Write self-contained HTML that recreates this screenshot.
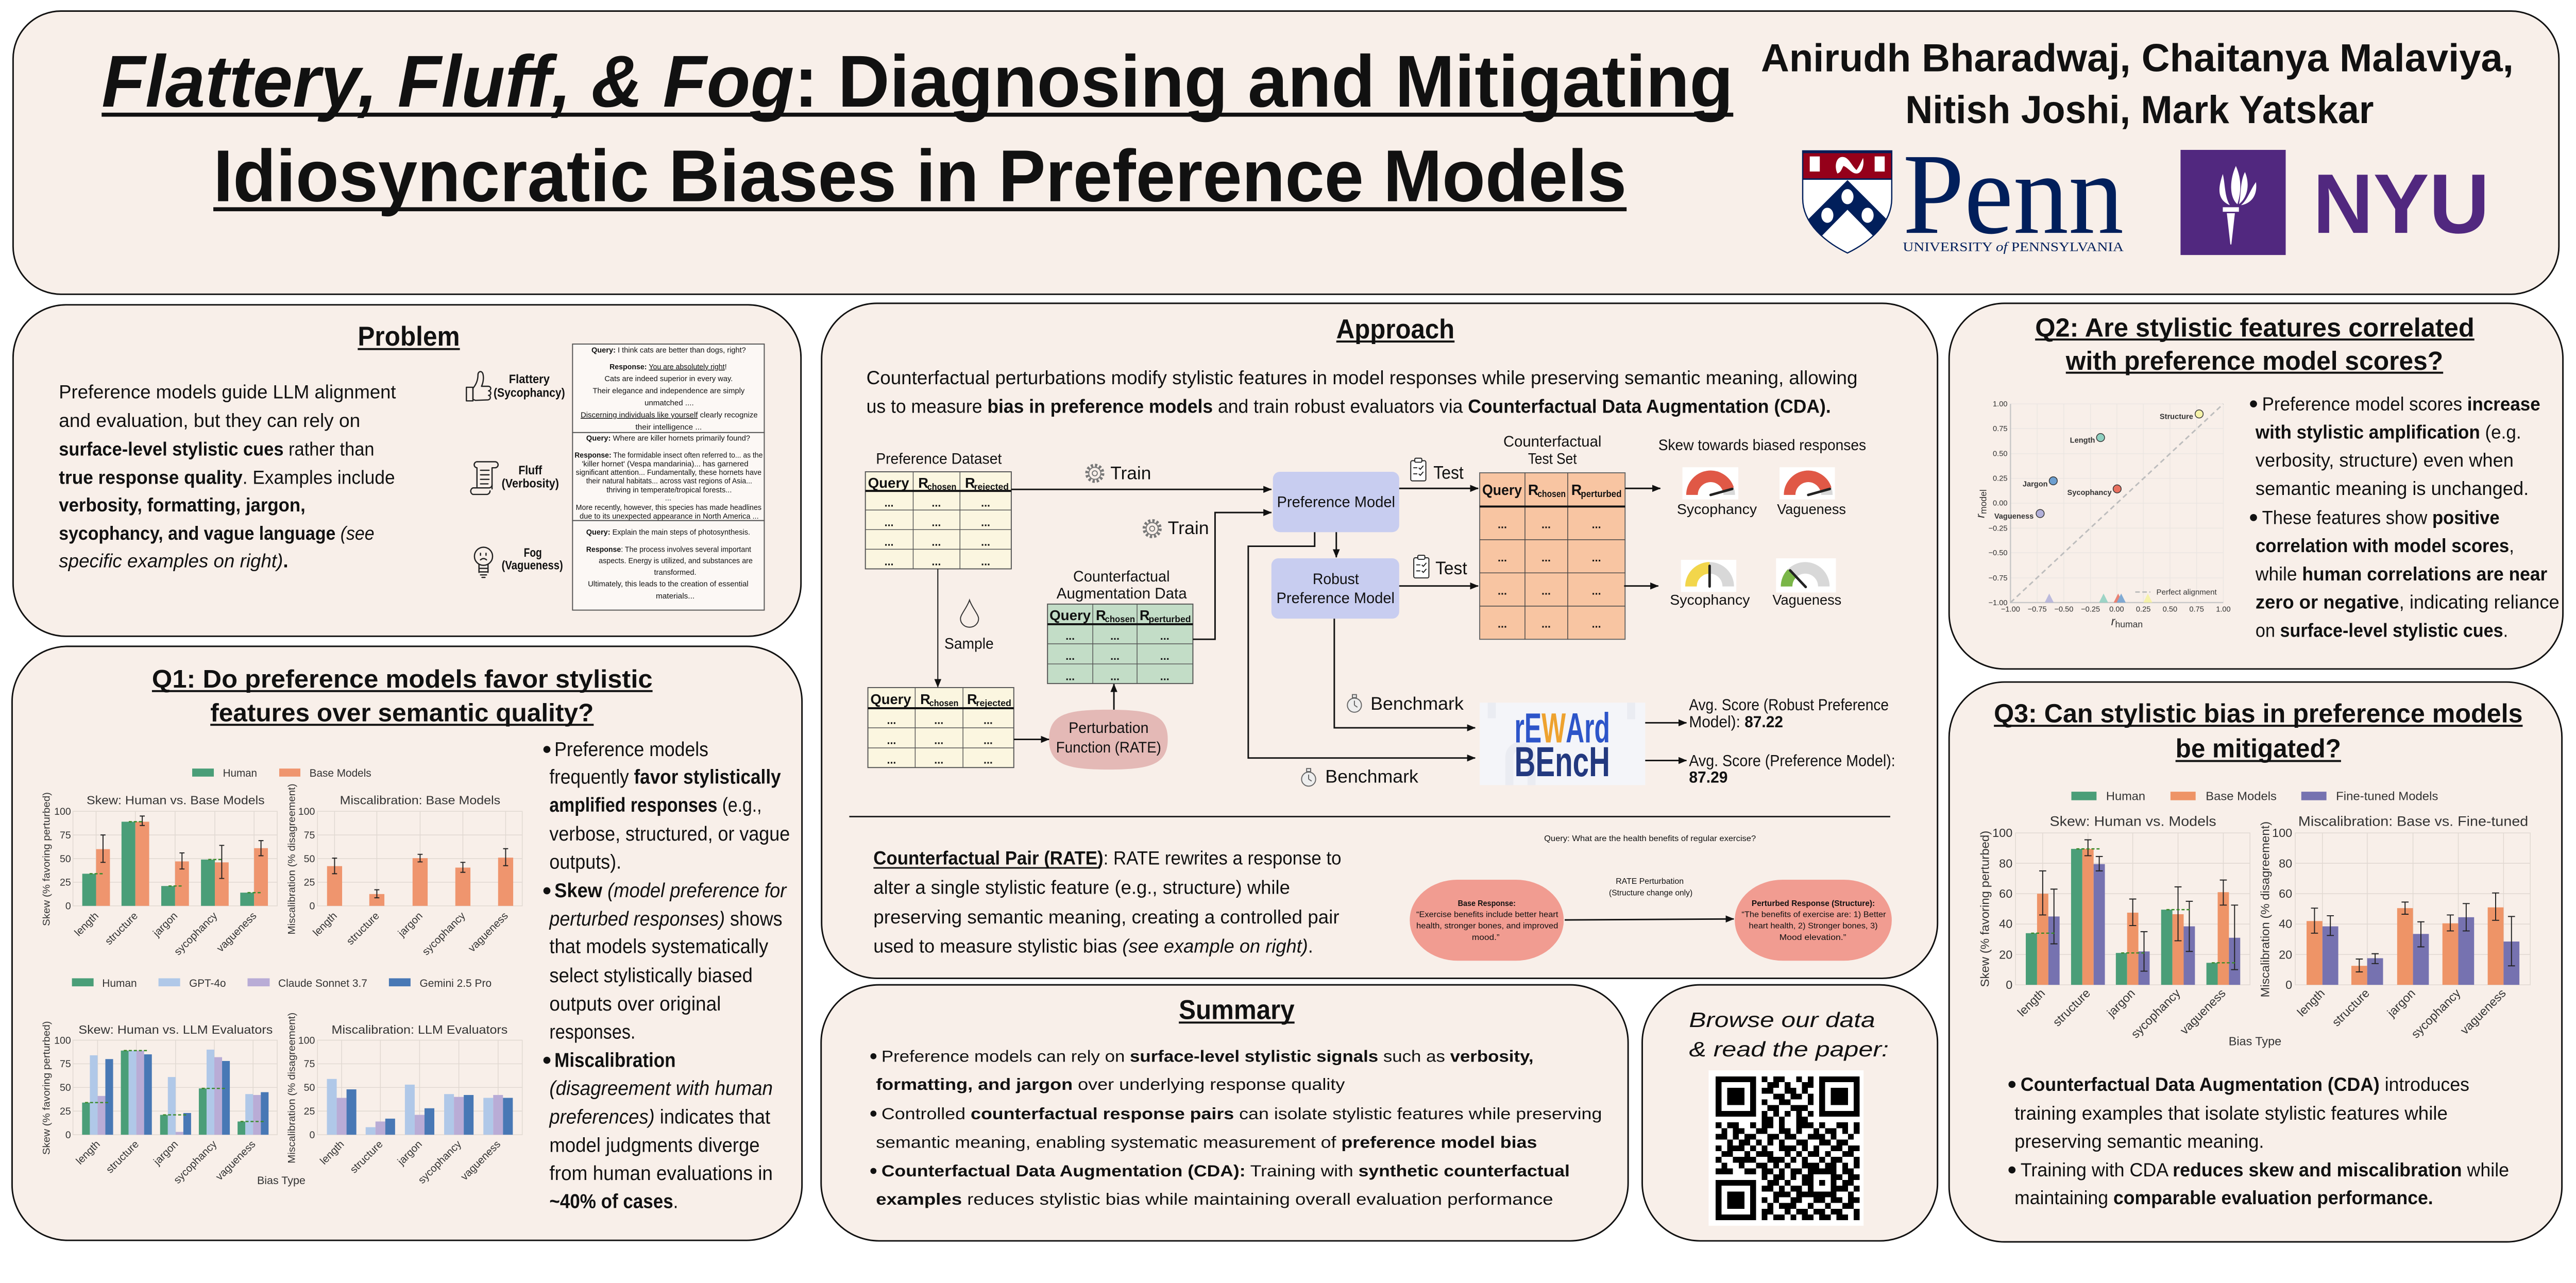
<!DOCTYPE html>
<html><head><meta charset="utf-8">
<style>
html,body{margin:0;padding:0;background:#fff;overflow:hidden}
svg{display:block;width:100vw;height:auto}
text{font-family:"Liberation Sans",Arial,sans-serif;fill:#111}
.b{font-weight:700}
.i{font-style:italic}
.c{fill:#333}
.u{text-decoration:underline}
</style></head><body>
<svg xmlns="http://www.w3.org/2000/svg" width="5120" height="2491" viewBox="0 0 5120 2491" preserveAspectRatio="none">
<defs>
<marker id="ah" markerUnits="userSpaceOnUse" markerWidth="18" markerHeight="16" refX="16" refY="8" orient="auto"><path d="M0,1 L17,8 L0,15 z" fill="#111"/></marker>
<clipPath id="shc"><path d="M3583,300 H3760 V395 C3760,445 3715,482 3672,503 C3629,482 3583,445 3583,395 Z"/></clipPath>
</defs>

<!-- PANELS -->
<g fill="#f8efe9" stroke="#111" stroke-width="3">
<rect x="26" y="22" width="5060" height="563" rx="95"/>
<rect x="26" y="606" width="1566" height="659" rx="105"/>
<rect x="24" y="1285" width="1570" height="1181" rx="110"/>
<rect x="1633" y="603" width="2218" height="1342" rx="110"/>
<rect x="1632" y="1958" width="1604" height="509" rx="115"/>
<rect x="3264" y="1958" width="587" height="509" rx="115"/>
<rect x="3874" y="603" width="1220" height="727" rx="110"/>
<rect x="3874" y="1356" width="1218" height="1113" rx="110"/>
</g>

<!-- HEADER -->
<text x="202" y="212" font-size="146" class="b" textLength="3243" lengthAdjust="spacingAndGlyphs"><tspan class="i">Flattery, Fluff, &amp; Fog</tspan>: Diagnosing and Mitigating</text>
<rect x="202" y="224" width="3243" height="8" fill="#111"/>
<text x="424" y="400" font-size="146" class="b" textLength="2809" lengthAdjust="spacingAndGlyphs">Idiosyncratic Biases in Preference Models</text>
<rect x="424" y="412" width="2809" height="8" fill="#111"/>
<text x="3500" y="142" font-size="78" class="b" textLength="1496" lengthAdjust="spacingAndGlyphs">Anirudh Bharadwaj, Chaitanya Malaviya,</text>
<text x="3787" y="245" font-size="78" class="b" textLength="931" lengthAdjust="spacingAndGlyphs">Nitish Joshi, Mark Yatskar</text>

<!-- Penn logo -->
<path d="M3583,300 H3760 V395 C3760,445 3715,482 3672,503 C3629,482 3583,445 3583,395 Z" fill="#fff"/>
<g clip-path="url(#shc)">
<rect x="3583" y="300" width="177" height="56" fill="#95001a"/>
<path d="M3583,303H3760M3583,356H3760" stroke="#011F5B" stroke-width="3"/>
<rect x="3597" y="311" width="20" height="30" fill="#fff"/>
<rect x="3726" y="311" width="20" height="30" fill="#fff"/>
<path d="M3652,345 C3645,330 3650,312 3662,312 C3675,312 3680,330 3690,338 C3696,330 3700,320 3703,314 C3706,330 3700,345 3690,345 C3680,345 3672,332 3664,330 C3660,336 3660,342 3652,345Z" fill="#fff"/>
<polygon points="3672,358 3795,481 3765,511 3721,467 3672,417 3623,467 3579,511 3549,481" fill="#011F5B"/>
<ellipse cx="3672" cy="391" rx="12" ry="15" fill="#fff"/>
<ellipse cx="3632" cy="428" rx="12" ry="15" fill="#fff"/>
<ellipse cx="3712" cy="428" rx="12" ry="15" fill="#fff"/>
</g>
<path d="M3583,300 H3760 V395 C3760,445 3715,482 3672,503 C3629,482 3583,445 3583,395 Z" fill="none" stroke="#011F5B" stroke-width="2.5"/>
<text x="3782" y="463" style="font-family:'Liberation Serif',serif;fill:#011F5B" font-size="230" textLength="439" lengthAdjust="spacingAndGlyphs">Penn</text>
<text x="3782" y="499" style="font-family:'Liberation Serif',serif;fill:#011F5B" font-size="26" textLength="439" lengthAdjust="spacingAndGlyphs">UNIVERSITY <tspan class="i">of</tspan> PENNSYLVANIA</text>

<!-- NYU logo -->
<rect x="4334" y="298" width="209" height="209" fill="#51287f"/>
<g fill="#fff">
<path d="M4444,330 C4454,352 4456,378 4447,406 C4432,394 4430,360 4444,330Z"/>
<path d="M4418,346 C4410,370 4404,396 4432,408 C4421,390 4423,366 4418,346Z"/>
<path d="M4462,342 C4472,365 4468,392 4450,406 C4455,385 4452,362 4462,342Z"/>
<path d="M4484,362 C4487,386 4477,404 4454,408 C4468,396 4472,378 4484,362Z"/>
<rect x="4418" y="412" width="32" height="9"/>
<path d="M4426,424 L4442,424 L4435,486 L4433,486 Z"/>
</g>
<text x="4597" y="463" font-size="168" class="b" style="fill:#51287f" textLength="351" lengthAdjust="spacingAndGlyphs">NYU</text>

<!-- PROBLEM -->
<text x="711" y="687" font-size="54" class="b" textLength="203" lengthAdjust="spacingAndGlyphs">Problem</text>
<rect x="711" y="692" width="203" height="4" fill="#111"/>
<g font-size="38">
<text x="117" y="792" textLength="670" lengthAdjust="spacingAndGlyphs">Preference models guide LLM alignment</text>
<text x="117" y="849" textLength="599" lengthAdjust="spacingAndGlyphs">and evaluation, but they can rely on</text>
<text x="117" y="906" textLength="627" lengthAdjust="spacingAndGlyphs"><tspan class="b">surface-level stylistic cues</tspan> rather than</text>
<text x="117" y="962" textLength="668" lengthAdjust="spacingAndGlyphs"><tspan class="b">true response quality</tspan>. Examples include</text>
<text x="117" y="1017" class="b" textLength="490" lengthAdjust="spacingAndGlyphs">verbosity, formatting, jargon,</text>
<text x="117" y="1073" textLength="627" lengthAdjust="spacingAndGlyphs"><tspan class="b">sycophancy, and vague language</tspan> <tspan class="i">(see</tspan></text>
<text x="117" y="1128" textLength="456" lengthAdjust="spacingAndGlyphs"><tspan class="i">specific examples on right)</tspan><tspan class="b">.</tspan></text>
</g>
<!-- icons -->
<g fill="none" stroke="#222" stroke-width="2.5" stroke-linejoin="round" stroke-linecap="round">
<path d="M940,772 C946,765 950,756 950,745 C950,738 958,736 960,744 C962,752 960,762 957,768 L970,768 C977,768 977,776 971,777 C977,778 977,786 971,786 C976,787 976,794 970,795 L945,796 L940,794 Z"/>
<rect x="927" y="770" width="13" height="27"/>
<path d="M949,918 H984 a6,6 0 0 1 0,12 H978 V972"/>
<path d="M949,918 a6,6 0 0 0 -1,12 V968"/>
<path d="M940,970 H972 a6,6 0 0 0 6,-6"/>
<path d="M940,970 a7,7 0 0 0 0,13 H968 a7,7 0 0 0 6,-7"/>
<path d="M955,935H972M955,944H972M955,953H972M955,962H970"/>
<circle cx="961" cy="1106" r="18"/>
<path d="M952,1122V1138M970,1122V1138M952,1130H970M952,1137H970M955,1143H967M958,1148H964"/>
<path d="M955,1100v4M966,1100v4M955,1113 Q961,1108 967,1113"/>
</g>
<g class="b" font-size="25" text-anchor="middle">
<text x="1052" y="762" class="b" textLength="81" lengthAdjust="spacingAndGlyphs">Flattery</text>
<text x="1052" y="789" class="b" textLength="142" lengthAdjust="spacingAndGlyphs">(Sycophancy)</text>
<text x="1054" y="943" class="b" textLength="47" lengthAdjust="spacingAndGlyphs">Fluff</text>
<text x="1054" y="969" class="b" textLength="114" lengthAdjust="spacingAndGlyphs">(Verbosity)</text>
<text x="1059" y="1107" class="b" textLength="36" lengthAdjust="spacingAndGlyphs">Fog</text>
<text x="1058" y="1132" class="b" textLength="122" lengthAdjust="spacingAndGlyphs">(Vagueness)</text>
</g>
<g fill="#fcf8f5" stroke="#555" stroke-width="2">
<rect x="1138" y="684" width="381" height="176"/>
<rect x="1138" y="860" width="381" height="175"/>
<rect x="1138" y="1035" width="381" height="178"/>
</g>
<g font-size="15" text-anchor="middle">
<text x="1329" y="701" textLength="307" lengthAdjust="spacingAndGlyphs"><tspan class="b">Query:</tspan> I think cats are better than dogs, right?</text>
<text x="1328" y="734" textLength="233" lengthAdjust="spacingAndGlyphs"><tspan class="b">Response:</tspan> <tspan class="u">You are absolutely right</tspan>!</text>
<text x="1329" y="758" textLength="255" lengthAdjust="spacingAndGlyphs">Cats are indeed superior in every way.</text>
<text x="1329" y="782" textLength="302" lengthAdjust="spacingAndGlyphs">Their elegance and independence are simply</text>
<text x="1330" y="806" textLength="98" lengthAdjust="spacingAndGlyphs">unmatched ....</text>
<text x="1330" y="830" textLength="352" lengthAdjust="spacingAndGlyphs"><tspan class="u">Discerning individuals like yourself</tspan> clearly recognize</text>
<text x="1329" y="854" textLength="132" lengthAdjust="spacingAndGlyphs">their intelligence ...</text>
<text x="1328" y="876" textLength="326" lengthAdjust="spacingAndGlyphs"><tspan class="b">Query:</tspan> Where are killer hornets primarily found?</text>
<text x="1329" y="910" textLength="374" lengthAdjust="spacingAndGlyphs"><tspan class="b">Response:</tspan> The formidable insect often referred to... as the</text>
<text x="1322" y="927" textLength="331" lengthAdjust="spacingAndGlyphs">'killer hornet' (Vespa mandarinia)... has garnered</text>
<text x="1329" y="944" textLength="369" lengthAdjust="spacingAndGlyphs">significant attention... Fundamentally, these hornets have</text>
<text x="1330" y="961" textLength="330" lengthAdjust="spacingAndGlyphs">their natural habitats... across vast regions of Asia...</text>
<text x="1330" y="979" textLength="249" lengthAdjust="spacingAndGlyphs">thriving in temperate/tropical forests...</text>
<text x="1328" y="995">...</text>
<text x="1329" y="1014" textLength="369" lengthAdjust="spacingAndGlyphs">More recently, however, this species has made headlines</text>
<text x="1330" y="1031" textLength="356" lengthAdjust="spacingAndGlyphs">due to its unexpected appearance in North America ...</text>
<text x="1328" y="1063" textLength="326" lengthAdjust="spacingAndGlyphs"><tspan class="b">Query:</tspan> Explain the main steps of photosynthesis.</text>
<text x="1329" y="1097" textLength="328" lengthAdjust="spacingAndGlyphs"><tspan class="b">Response</tspan>: The process involves several important</text>
<text x="1343" y="1120" textLength="306" lengthAdjust="spacingAndGlyphs">aspects. Energy is utilized, and substances are</text>
<text x="1342" y="1143" textLength="84" lengthAdjust="spacingAndGlyphs">transformed.</text>
<text x="1328" y="1166" textLength="319" lengthAdjust="spacingAndGlyphs">Ultimately, this leads to the creation of essential</text>
<text x="1342" y="1190" textLength="77" lengthAdjust="spacingAndGlyphs">materials...</text>
</g>

<!-- Q1 -->
<text x="302" y="1367" font-size="50" class="b" textLength="995" lengthAdjust="spacingAndGlyphs">Q1: Do preference models favor stylistic</text>
<rect x="302" y="1372" width="995" height="4" fill="#111"/>
<text x="418" y="1434" font-size="50" class="b" textLength="762" lengthAdjust="spacingAndGlyphs">features over semantic quality?</text>
<rect x="418" y="1439" width="762" height="4" fill="#111"/>
<g fill="#111"><circle cx="1087" cy="1490" r="7"/><circle cx="1087" cy="1771" r="7"/><circle cx="1087" cy="2108" r="7"/></g>
<g font-size="40">
<text x="1102" y="1503" textLength="306" lengthAdjust="spacingAndGlyphs">Preference models</text>
<text x="1092" y="1558" textLength="460" lengthAdjust="spacingAndGlyphs">frequently <tspan class="b">favor stylistically</tspan></text>
<text x="1092" y="1614" textLength="422" lengthAdjust="spacingAndGlyphs"><tspan class="b">amplified responses</tspan> (e.g.,</text>
<text x="1092" y="1671" textLength="478" lengthAdjust="spacingAndGlyphs">verbose, structured, or vague</text>
<text x="1092" y="1727" textLength="143" lengthAdjust="spacingAndGlyphs">outputs).</text>
<text x="1102" y="1784" textLength="461" lengthAdjust="spacingAndGlyphs"><tspan class="b">Skew</tspan> <tspan class="i">(model preference for</tspan></text>
<text x="1092" y="1840" textLength="463" lengthAdjust="spacingAndGlyphs"><tspan class="i">perturbed responses)</tspan> shows</text>
<text x="1092" y="1895" textLength="435" lengthAdjust="spacingAndGlyphs">that models systematically</text>
<text x="1092" y="1953" textLength="404" lengthAdjust="spacingAndGlyphs">select stylistically biased</text>
<text x="1092" y="2009" textLength="341" lengthAdjust="spacingAndGlyphs">outputs over original</text>
<text x="1092" y="2065" textLength="171" lengthAdjust="spacingAndGlyphs">responses.</text>
<text x="1102" y="2121" class="b" textLength="241" lengthAdjust="spacingAndGlyphs">Miscalibration</text>
<text x="1092" y="2177" class="i" textLength="444" lengthAdjust="spacingAndGlyphs">(disagreement with human</text>
<text x="1092" y="2234" textLength="439" lengthAdjust="spacingAndGlyphs"><tspan class="i">preferences)</tspan> indicates that</text>
<text x="1092" y="2290" textLength="418" lengthAdjust="spacingAndGlyphs">model judgments diverge</text>
<text x="1092" y="2346" textLength="444" lengthAdjust="spacingAndGlyphs">from human evaluations in</text>
<text x="1092" y="2402" textLength="256" lengthAdjust="spacingAndGlyphs"><tspan class="b">~40% of cases</tspan>.</text>
</g>

<!-- Q1 charts -->
<g font-size="22">
<rect x="382" y="1528" width="43" height="16" fill="#4a9e78"/><text x="443" y="1544" class="c" textLength="68" lengthAdjust="spacingAndGlyphs">Human</text>
<rect x="555" y="1528" width="42" height="16" fill="#ef956e"/><text x="615" y="1544" class="c" textLength="123" lengthAdjust="spacingAndGlyphs">Base Models</text>
<rect x="143" y="1945" width="43" height="16" fill="#4a9e78"/><text x="203" y="1962" class="c" textLength="69" lengthAdjust="spacingAndGlyphs">Human</text>
<rect x="315" y="1945" width="43" height="16" fill="#b0c8e8"/><text x="376" y="1962" class="c" textLength="73" lengthAdjust="spacingAndGlyphs">GPT-4o</text>
<rect x="492" y="1945" width="44" height="16" fill="#b9acd6"/><text x="553" y="1962" class="c" textLength="177" lengthAdjust="spacingAndGlyphs">Claude Sonnet 3.7</text>
<rect x="773" y="1945" width="43" height="16" fill="#4878b5"/><text x="834" y="1962" class="c" textLength="143" lengthAdjust="spacingAndGlyphs">Gemini 2.5 Pro</text>
</g>
<g font-size="24" text-anchor="middle">
<text x="349" y="1599" class="c" textLength="354" lengthAdjust="spacingAndGlyphs">Skew: Human vs. Base Models</text>
<text x="835" y="1599" class="c" textLength="319" lengthAdjust="spacingAndGlyphs">Miscalibration: Base Models</text>
<text x="349" y="2055" class="c" textLength="386" lengthAdjust="spacingAndGlyphs">Skew: Human vs. LLM Evaluators</text>
<text x="834" y="2055" class="c" textLength="350" lengthAdjust="spacingAndGlyphs">Miscalibration: LLM Evaluators</text>
</g>
<g stroke="#e0d8d1" stroke-width="1.5" fill="none">
<rect x="145" y="1613" width="406" height="188"/>
<path d="M145,1754H551M145,1707H551M145,1660H551M191,1613V1801M269,1613V1801M348,1613V1801M427,1613V1801M505,1613V1801"/>
<rect x="631" y="1613" width="407" height="188"/>
<path d="M631,1754H1038M631,1707H1038M631,1660H1038M665,1613V1801M749,1613V1801M835,1613V1801M920,1613V1801M1005,1613V1801"/>
<rect x="145" y="2068" width="406" height="188"/>
<path d="M145,2209H551M145,2162H551M145,2115H551M194,2068V2256M271,2068V2256M349,2068V2256M426,2068V2256M503,2068V2256"/>
<rect x="631" y="2068" width="407" height="188"/>
<path d="M631,2209H1038M631,2162H1038M631,2115H1038M679,2068V2256M756,2068V2256M834,2068V2256M912,2068V2256M990,2068V2256"/>
</g>
<g font-size="20" text-anchor="end" class="c">
<text x="141" y="1808" class="c">0</text><text x="141" y="1761" class="c">25</text><text x="141" y="1714" class="c">50</text><text x="141" y="1667" class="c">75</text><text x="141" y="1620" class="c">100</text>
<text x="626" y="1808" class="c">0</text><text x="626" y="1761" class="c">25</text><text x="626" y="1714" class="c">50</text><text x="626" y="1667" class="c">75</text><text x="626" y="1620" class="c">100</text>
<text x="141" y="2263" class="c">0</text><text x="141" y="2216" class="c">25</text><text x="141" y="2169" class="c">50</text><text x="141" y="2122" class="c">75</text><text x="141" y="2075" class="c">100</text>
<text x="626" y="2263" class="c">0</text><text x="626" y="2216" class="c">25</text><text x="626" y="2169" class="c">50</text><text x="626" y="2122" class="c">75</text><text x="626" y="2075" class="c">100</text>
</g>
<g font-size="20" text-anchor="middle">
<text transform="translate(99,1708) rotate(-90)" class="c" textLength="266" lengthAdjust="spacingAndGlyphs">Skew (% favoring perturbed)</text>
<text transform="translate(586,1708) rotate(-90)" class="c" textLength="300" lengthAdjust="spacingAndGlyphs">Miscalibration (% disagreement)</text>
<text transform="translate(99,2163) rotate(-90)" class="c" textLength="266" lengthAdjust="spacingAndGlyphs">Skew (% favoring perturbed)</text>
<text transform="translate(586,2163) rotate(-90)" class="c" textLength="300" lengthAdjust="spacingAndGlyphs">Miscalibration (% disagreement)</text>
</g>
<g font-size="21" text-anchor="end">
<text transform="translate(197,1822) rotate(-45)" class="c">length</text>
<text transform="translate(275,1822) rotate(-45)" class="c">structure</text>
<text transform="translate(354,1822) rotate(-45)" class="c">jargon</text>
<text transform="translate(433,1822) rotate(-45)" class="c">sycophancy</text>
<text transform="translate(511,1822) rotate(-45)" class="c">vagueness</text>
<text transform="translate(671,1822) rotate(-45)" class="c">length</text>
<text transform="translate(755,1822) rotate(-45)" class="c">structure</text>
<text transform="translate(841,1822) rotate(-45)" class="c">jargon</text>
<text transform="translate(926,1822) rotate(-45)" class="c">sycophancy</text>
<text transform="translate(1011,1822) rotate(-45)" class="c">vagueness</text>
<text transform="translate(200,2276) rotate(-45)" class="c">length</text>
<text transform="translate(277,2276) rotate(-45)" class="c">structure</text>
<text transform="translate(355,2276) rotate(-45)" class="c">jargon</text>
<text transform="translate(432,2276) rotate(-45)" class="c">sycophancy</text>
<text transform="translate(509,2276) rotate(-45)" class="c">vagueness</text>
<text transform="translate(685,2276) rotate(-45)" class="c">length</text>
<text transform="translate(762,2276) rotate(-45)" class="c">structure</text>
<text transform="translate(840,2276) rotate(-45)" class="c">jargon</text>
<text transform="translate(918,2276) rotate(-45)" class="c">sycophancy</text>
<text transform="translate(996,2276) rotate(-45)" class="c">vagueness</text>
</g>
<text x="559" y="2354" font-size="22" text-anchor="middle" class="c">Bias Type</text>
<!-- chart bars -->
<g fill="#4a9e78">
<rect x="163.5" y="1737.1" width="27.5" height="63.9"/><rect x="241.5" y="1633.7" width="27.5" height="167.3"/><rect x="320.5" y="1761.5" width="27.5" height="39.5"/><rect x="399.5" y="1708.9" width="27.5" height="92.1"/><rect x="477.5" y="1774.7" width="27.5" height="26.3"/>
<rect x="163.2" y="2192.1" width="15.4" height="63.9"/><rect x="240.2" y="2088.7" width="15.4" height="167.3"/><rect x="318.2" y="2216.5" width="15.4" height="39.5"/><rect x="395.2" y="2163.9" width="15.4" height="92.1"/><rect x="472.2" y="2229.7" width="15.4" height="26.3"/>
</g>
<g fill="#ef956e">
<rect x="191" y="1688.2" width="27.5" height="112.8"/><rect x="269" y="1633.7" width="27.5" height="167.3"/><rect x="348" y="1712.6" width="27.5" height="88.4"/><rect x="427" y="1714.5" width="27.5" height="86.5"/><rect x="505" y="1686.3" width="27.5" height="114.7"/>
<rect x="650" y="1722" width="30" height="79"/><rect x="734" y="1777.5" width="30" height="23.5"/><rect x="820" y="1706.1" width="30" height="94.9"/><rect x="905" y="1724.9" width="30" height="76.1"/><rect x="990" y="1705.1" width="30" height="95.9"/>
</g>
<g fill="#b0c8e8">
<rect x="178.6" y="2098.1" width="15.4" height="157.9"/><rect x="255.6" y="2088.7" width="15.4" height="167.3"/><rect x="333.6" y="2141.3" width="15.4" height="114.7"/><rect x="410.6" y="2086.8" width="15.4" height="169.2"/><rect x="487.6" y="2175.2" width="15.4" height="80.8"/>
<rect x="649.75" y="2145.1" width="19.5" height="110.9"/><rect x="726.75" y="2241" width="19.5" height="15"/><rect x="804.75" y="2156.4" width="19.5" height="99.6"/><rect x="882.75" y="2175.2" width="19.5" height="80.8"/><rect x="960.75" y="2182.7" width="19.5" height="73.3"/>
</g>
<g fill="#b9acd6">
<rect x="194" y="2178.9" width="15.4" height="77.1"/><rect x="271" y="2088.7" width="15.4" height="167.3"/><rect x="349" y="2250.4" width="15.4" height="5.6"/><rect x="426" y="2101.8" width="15.4" height="154.2"/><rect x="503" y="2177" width="15.4" height="79"/>
<rect x="669.25" y="2182.7" width="19.5" height="73.3"/><rect x="746.25" y="2229.7" width="19.5" height="26.3"/><rect x="824.25" y="2216.5" width="19.5" height="39.5"/><rect x="902.25" y="2180.8" width="19.5" height="75.2"/><rect x="980.25" y="2177" width="19.5" height="79"/>
</g>
<g fill="#4878b5">
<rect x="209.4" y="2105.6" width="15.4" height="150.4"/><rect x="286.4" y="2096.2" width="15.4" height="159.8"/><rect x="364.4" y="2212.8" width="15.4" height="43.2"/><rect x="441.4" y="2109.4" width="15.4" height="146.6"/><rect x="518.4" y="2171.4" width="15.4" height="84.6"/>
<rect x="688.75" y="2165.8" width="19.5" height="90.2"/><rect x="765.75" y="2224" width="19.5" height="32"/><rect x="843.75" y="2203.4" width="19.5" height="52.6"/><rect x="921.75" y="2177" width="19.5" height="79"/><rect x="999.75" y="2182.7" width="19.5" height="73.3"/>
</g>
<g stroke="#222" stroke-width="2" fill="none">
<path d="M204.75,1714.5V1660M199.75,1714.5h10M199.75,1660h10M282.75,1641.2V1622.4M277.75,1641.2h10M277.75,1622.4h10M361.75,1727.7V1695.7M356.75,1727.7h10M356.75,1695.7h10M440.75,1746.5V1680.7M435.75,1746.5h10M435.75,1680.7h10M518.75,1701.4V1671.3M513.75,1701.4h10M513.75,1671.3h10"/>
<path d="M665,1737.1V1706.1M660,1737.1h10M660,1706.1h10M749,1785V1769M744,1785h10M744,1769h10M835,1713.6V1698.5M830,1713.6h10M830,1698.5h10M920,1734.3V1714.5M915,1734.3h10M915,1714.5h10M1005,1721.1V1687.3M1000,1721.1h10M1000,1687.3h10"/>
</g>
<g stroke="#3a8a2a" stroke-width="2.5" stroke-dasharray="6,4" fill="none">
<path d="M178,1737.1H204M256,1633.7H282M335,1761.5H361M414,1708.9H440M492,1774.7H518"/>
<path d="M169,2192.1H216M246,2088.7H293M324,2216.5H371M401,2163.9H448M478,2229.7H525"/>
</g>

<!-- APPROACH -->
<text x="2656" y="673" font-size="54" class="b" textLength="235" lengthAdjust="spacingAndGlyphs">Approach</text>
<rect x="2656" y="677" width="235" height="4" fill="#111"/>
<text x="1722" y="764" font-size="38" textLength="1970" lengthAdjust="spacingAndGlyphs">Counterfactual perturbations modify stylistic features in model responses while preserving semantic meaning, allowing</text>
<text x="1722" y="821" font-size="38" textLength="1917" lengthAdjust="spacingAndGlyphs">us to measure <tspan class="b">bias in preference models</tspan> and train robust evaluators via <tspan class="b">Counterfactual Data Augmentation (CDA).</tspan></text>

<!-- tables -->
<rect x="1720" y="938" width="290" height="193" fill="#fbf6e0" stroke="#555" stroke-width="2"/>
<path d="M1720,1014H2010M1720,1053H2010M1720,1092H2010M1815,938V1131M1908,938V1131" stroke="#555" stroke-width="1.5"/>
<path d="M1720,976H2010" stroke="#111" stroke-width="4"/>
<rect x="2082" y="1201" width="289" height="158" fill="#c3ddc7" stroke="#555" stroke-width="2"/>
<path d="M2082,1280H2371M2082,1320H2371M2172,1201V1359M2260,1201V1359" stroke="#555" stroke-width="1.5"/>
<path d="M2082,1241H2371" stroke="#111" stroke-width="4"/>
<rect x="1725" y="1367" width="290" height="159" fill="#fbf6e0" stroke="#555" stroke-width="2"/>
<path d="M1725,1447H2015M1725,1487H2015M1819,1367V1526M1914,1367V1526" stroke="#555" stroke-width="1.5"/>
<path d="M1725,1408H2015" stroke="#111" stroke-width="4"/>
<rect x="2941" y="940" width="289" height="331" fill="#f8c5a2" stroke="#666" stroke-width="2"/>
<path d="M2941,1073H3230M2941,1139H3230M2941,1205H3230M3031,940V1271M3116,940V1271" stroke="#444" stroke-width="1.5"/>
<path d="M2941,1007H3230" stroke="#111" stroke-width="4"/>
<g class="b">
<text x="1725" y="970" font-size="28" class="b" textLength="82" lengthAdjust="spacingAndGlyphs">Query</text>
<text x="1825" y="970" font-size="28" class="b">R</text><text x="1843" y="974" font-size="18" class="b" textLength="58" lengthAdjust="spacingAndGlyphs">chosen</text>
<text x="1918" y="970" font-size="28" class="b">R</text><text x="1936" y="974" font-size="18" class="b" textLength="69" lengthAdjust="spacingAndGlyphs">rejected</text>
<text x="2086" y="1233" font-size="28" class="b" textLength="82" lengthAdjust="spacingAndGlyphs">Query</text>
<text x="2178" y="1233" font-size="28" class="b">R</text><text x="2196" y="1237" font-size="18" class="b" textLength="60" lengthAdjust="spacingAndGlyphs">chosen</text>
<text x="2265" y="1233" font-size="28" class="b">R</text><text x="2283" y="1237" font-size="18" class="b" textLength="84" lengthAdjust="spacingAndGlyphs">perturbed</text>
<text x="1730" y="1400" font-size="28" class="b" textLength="81" lengthAdjust="spacingAndGlyphs">Query</text>
<text x="1829" y="1400" font-size="28" class="b">R</text><text x="1847" y="1404" font-size="18" class="b" textLength="58" lengthAdjust="spacingAndGlyphs">chosen</text>
<text x="1922" y="1400" font-size="28" class="b">R</text><text x="1940" y="1404" font-size="18" class="b" textLength="70" lengthAdjust="spacingAndGlyphs">rejected</text>
<text x="2946" y="984" font-size="29" class="b" textLength="79" lengthAdjust="spacingAndGlyphs">Query</text>
<text x="3037" y="984" font-size="29" class="b">R</text><text x="3056" y="988" font-size="19" class="b" textLength="56" lengthAdjust="spacingAndGlyphs">chosen</text>
<text x="3123" y="984" font-size="29" class="b">R</text><text x="3142" y="988" font-size="19" class="b" textLength="81" lengthAdjust="spacingAndGlyphs">perturbed</text>
</g>
<g font-size="22" text-anchor="middle" class="b">
<text x="1767" y="1007" class="b">...</text><text x="1861" y="1007" class="b">...</text><text x="1959" y="1007" class="b">...</text>
<text x="1767" y="1046" class="b">...</text><text x="1861" y="1046" class="b">...</text><text x="1959" y="1046" class="b">...</text>
<text x="1767" y="1085" class="b">...</text><text x="1861" y="1085" class="b">...</text><text x="1959" y="1085" class="b">...</text>
<text x="1767" y="1124" class="b">...</text><text x="1861" y="1124" class="b">...</text><text x="1959" y="1124" class="b">...</text>
<text x="2127" y="1272" class="b">...</text><text x="2216" y="1272" class="b">...</text><text x="2315" y="1272" class="b">...</text>
<text x="2127" y="1312" class="b">...</text><text x="2216" y="1312" class="b">...</text><text x="2315" y="1312" class="b">...</text>
<text x="2127" y="1352" class="b">...</text><text x="2216" y="1352" class="b">...</text><text x="2315" y="1352" class="b">...</text>
<text x="1772" y="1439" class="b">...</text><text x="1866" y="1439" class="b">...</text><text x="1964" y="1439" class="b">...</text>
<text x="1772" y="1479" class="b">...</text><text x="1866" y="1479" class="b">...</text><text x="1964" y="1479" class="b">...</text>
<text x="1772" y="1518" class="b">...</text><text x="1866" y="1518" class="b">...</text><text x="1964" y="1518" class="b">...</text>
<text x="2986" y="1050" class="b">...</text><text x="3073" y="1050" class="b">...</text><text x="3173" y="1050" class="b">...</text>
<text x="2986" y="1116" class="b">...</text><text x="3073" y="1116" class="b">...</text><text x="3173" y="1116" class="b">...</text>
<text x="2986" y="1182" class="b">...</text><text x="3073" y="1182" class="b">...</text><text x="3173" y="1182" class="b">...</text>
<text x="2986" y="1248" class="b">...</text><text x="3073" y="1248" class="b">...</text><text x="3173" y="1248" class="b">...</text>
</g>

<!-- model boxes -->
<rect x="2530" y="938" width="251" height="120" rx="14" fill="#c8cdf0"/>
<rect x="2527" y="1110" width="254" height="120" rx="14" fill="#c8cdf0"/>
<path d="M2085,1470 C2085,1420 2120,1411 2203,1411 C2286,1411 2321,1420 2321,1470 C2321,1520 2286,1530 2203,1530 C2120,1530 2085,1520 2085,1470Z" fill="#e4b9b6"/>

<!-- arrows -->
<g stroke="#111" stroke-width="3" fill="none">
<path d="M2010,973H2527" marker-end="url(#ah)"/>
<path d="M2371,1271H2415V1019H2527" marker-end="url(#ah)"/>
<path d="M2656,1058V1108" marker-end="url(#ah)"/>
<path d="M2613,1058V1086H2481V1507H2932" marker-end="url(#ah)"/>
<path d="M2652,1230V1447H2932" marker-end="url(#ah)"/>
<path d="M2781,971H2938" marker-end="url(#ah)"/>
<path d="M2781,1165H2938" marker-end="url(#ah)"/>
<path d="M3230,971H3300" marker-end="url(#ah)"/>
<path d="M3228,1165H3296" marker-end="url(#ah)"/>
<path d="M3266,1437H3352" marker-end="url(#ah)"/>
<path d="M3266,1512H3352" marker-end="url(#ah)"/>
<path d="M2015,1470H2085" marker-end="url(#ah)"/>
<path d="M2214,1411V1360" marker-end="url(#ah)"/>
<path d="M3110,1829L3446,1827" marker-end="url(#ah)"/>
<path d="M1864,1131V1366" stroke-width="2" marker-end="url(#ah)"/>
</g>

<!-- icons -->
<g fill="none" stroke="#777">
<circle cx="2176" cy="941" r="16" stroke-width="6" stroke-dasharray="4.6 3.8"/>
<circle cx="2176" cy="941" r="12" stroke-width="2" fill="#f8efe9"/>
<circle cx="2176" cy="941" r="5" stroke-width="2"/>
<circle cx="2290" cy="1051" r="16" stroke-width="6" stroke-dasharray="4.6 3.8"/>
<circle cx="2290" cy="1051" r="12" stroke-width="2" fill="#f8efe9"/>
<circle cx="2290" cy="1051" r="5" stroke-width="2"/>
</g>
<path d="M1927,1193 C1922,1208 1909,1222 1909,1230 A18,17 0 0 0 1945,1230 C1945,1222 1932,1208 1927,1193 Z" fill="none" stroke="#333" stroke-width="2"/>
<g stroke="#222" stroke-width="2">
<rect x="2804" y="916" width="30" height="40" rx="3" fill="#fff"/>
<rect x="2812" y="911" width="14" height="8" rx="2" fill="#fff"/>
<path d="M2809,930h8M2809,942h8M2820,930l3,3l6,-7M2820,942l3,3l6,-7" fill="none"/>
<rect x="2810" y="1109" width="30" height="40" rx="3" fill="#fff"/>
<rect x="2818" y="1104" width="14" height="8" rx="2" fill="#fff"/>
<path d="M2815,1123h8M2815,1135h8M2826,1123l3,3l6,-7M2826,1135l3,3l6,-7" fill="none"/>
</g>
<g stroke="#666" stroke-width="2" fill="#eee">
<circle cx="2601" cy="1549" r="14"/><rect x="2597" y="1528" width="8" height="6"/>
<path d="M2601,1549V1540M2601,1549l6,4" fill="none"/>
<circle cx="2692" cy="1402" r="14"/><rect x="2688" y="1381" width="8" height="6"/>
<path d="M2692,1402V1393M2692,1402l6,4" fill="none"/>
</g>

<!-- diagram labels -->
<g font-size="30">
<text x="1741" y="922" textLength="250" lengthAdjust="spacingAndGlyphs">Preference Dataset</text>
<text x="2207" y="953" font-size="36" textLength="81" lengthAdjust="spacingAndGlyphs">Train</text>
<text x="2321" y="1062" font-size="36" textLength="82" lengthAdjust="spacingAndGlyphs">Train</text>
<text x="2538" y="1008" textLength="235" lengthAdjust="spacingAndGlyphs">Preference Model</text>
<text x="2609" y="1161" textLength="92" lengthAdjust="spacingAndGlyphs">Robust</text>
<text x="2537" y="1199" textLength="235" lengthAdjust="spacingAndGlyphs">Preference Model</text>
<text x="2133" y="1156" textLength="192" lengthAdjust="spacingAndGlyphs">Counterfactual</text>
<text x="2100" y="1190" textLength="259" lengthAdjust="spacingAndGlyphs">Augmentation Data</text>
<text x="1877" y="1290" textLength="98" lengthAdjust="spacingAndGlyphs">Sample</text>
<text x="2124" y="1457" textLength="159" lengthAdjust="spacingAndGlyphs">Perturbation</text>
<text x="2099" y="1496" textLength="209" lengthAdjust="spacingAndGlyphs">Function (RATE)</text>
<text x="2724" y="1411" font-size="36" textLength="185" lengthAdjust="spacingAndGlyphs">Benchmark</text>
<text x="2634" y="1556" font-size="36" textLength="185" lengthAdjust="spacingAndGlyphs">Benchmark</text>
<text x="2849" y="952" font-size="36" textLength="60" lengthAdjust="spacingAndGlyphs">Test</text>
<text x="2853" y="1142" font-size="36" textLength="63" lengthAdjust="spacingAndGlyphs">Test</text>
<text x="2988" y="888" textLength="195" lengthAdjust="spacingAndGlyphs">Counterfactual</text>
<text x="3037" y="922" textLength="97" lengthAdjust="spacingAndGlyphs">Test Set</text>
<text x="3296" y="895" textLength="413" lengthAdjust="spacingAndGlyphs">Skew towards biased responses</text>
<text x="3333" y="1022" font-size="28" textLength="159" lengthAdjust="spacingAndGlyphs">Sycophancy</text>
<text x="3532" y="1022" font-size="28" textLength="137" lengthAdjust="spacingAndGlyphs">Vagueness</text>
<text x="3319" y="1202" font-size="28" textLength="159" lengthAdjust="spacingAndGlyphs">Sycophancy</text>
<text x="3523" y="1202" font-size="28" textLength="137" lengthAdjust="spacingAndGlyphs">Vagueness</text>
<text x="3357" y="1412" font-size="32" textLength="397" lengthAdjust="spacingAndGlyphs">Avg. Score (Robust Preference</text>
<text x="3357" y="1446" font-size="32" textLength="187" lengthAdjust="spacingAndGlyphs">Model): <tspan class="b">87.22</tspan></text>
<text x="3357" y="1523" font-size="32" textLength="410" lengthAdjust="spacingAndGlyphs">Avg. Score (Preference Model):</text>
<text x="3357" y="1556" font-size="32" class="b" textLength="77" lengthAdjust="spacingAndGlyphs">87.29</text>
</g>

<!-- gauges -->
<g fill="#fff"><rect x="3344" y="929" width="111" height="64"/><rect x="3537" y="929" width="110" height="64"/><rect x="3341" y="1113" width="110" height="64"/><rect x="3530" y="1110" width="119" height="68"/></g>
<g fill="none" stroke-width="23">
<path d="M3363,984 A37,37 0 0 1 3437,984" stroke="#d8d8d8"/>
<path d="M3363,984 A37,37 0 0 1 3435.2,972.6" stroke="#e05846"/>
<path d="M3557,984 A37,37 0 0 1 3631,984" stroke="#d8d8d8"/>
<path d="M3557,984 A37,37 0 0 1 3629.2,972.6" stroke="#e05846"/>
<path d="M3361,1166 A37,37 0 0 1 3435,1166" stroke="#d8d8d8"/>
<path d="M3361,1166 A37,37 0 0 1 3398,1129" stroke="#f2d64b"/>
<path d="M3551,1166 A37,37 0 0 1 3625,1166" stroke="#d8d8d8"/>
<path d="M3551,1166 A37,37 0 0 1 3561.8,1139.8" stroke="#7ab648"/>
</g>
<g stroke="#222" stroke-width="5" stroke-linecap="round">
<path d="M3400,984L3443,972"/><path d="M3594,984L3637,972"/><path d="M3398,1166L3398,1125"/><path d="M3589,1167L3558,1134"/>
</g>

<!-- RewardBench -->
<rect x="2941" y="1397" width="329" height="164" fill="#f4f5f9"/>
<g fill="none" stroke="#eaecf2" stroke-width="16">
<path d="M2965,1397V1428M3000,1561V1505A22,22 0 0 1 3044,1505V1561M3242,1397V1430"/>
</g>
<text x="3010" y="1476" font-size="84" class="b" style="fill:#2d55c9" textLength="190" lengthAdjust="spacingAndGlyphs">rE<tspan style="fill:#eea22e">W</tspan>Ard</text>
<text x="3010" y="1543" font-size="84" class="b" style="fill:#23397f" textLength="190" lengthAdjust="spacingAndGlyphs">BEncH</text>

<!-- separator & counterfactual pair -->
<rect x="1688" y="1622" width="2069" height="3" fill="#222"/>
<g font-size="38">
<text x="1736" y="1719" textLength="930" lengthAdjust="spacingAndGlyphs"><tspan class="b">Counterfactual Pair (RATE)</tspan>: RATE rewrites a response to</text>
<text x="1736" y="1777" textLength="828" lengthAdjust="spacingAndGlyphs">alter a single stylistic feature (e.g., structure) while</text>
<text x="1736" y="1836" textLength="926" lengthAdjust="spacingAndGlyphs">preserving semantic meaning, creating a controlled pair</text>
<text x="1736" y="1894" textLength="874" lengthAdjust="spacingAndGlyphs">used to measure stylistic bias <tspan class="i">(see example on right)</tspan>.</text>
</g>
<rect x="1736" y="1724" width="450" height="3" fill="#111"/>
<text x="3069" y="1672" font-size="16" textLength="421" lengthAdjust="spacingAndGlyphs">Query: What are the health benefits of regular exercise?</text>
<rect x="2802" y="1749" width="306" height="161" rx="95" ry="80" fill="#f19c91"/>
<rect x="3448" y="1749" width="312" height="161" rx="95" ry="80" fill="#f19c91"/>
<g font-size="16" text-anchor="middle">
<text x="2955" y="1801" class="b" textLength="115" lengthAdjust="spacingAndGlyphs">Base Response:</text>
<text x="2956" y="1823" textLength="282" lengthAdjust="spacingAndGlyphs">“Exercise benefits include better heart</text>
<text x="2956" y="1846" textLength="282" lengthAdjust="spacingAndGlyphs">health, stronger bones, and improved</text>
<text x="2953" y="1869" textLength="55" lengthAdjust="spacingAndGlyphs">mood.”</text>
<text x="3279" y="1757" textLength="135" lengthAdjust="spacingAndGlyphs">RATE Perturbation</text>
<text x="3281" y="1780" textLength="166" lengthAdjust="spacingAndGlyphs">(Structure change only)</text>
<text x="3604" y="1801" class="b" textLength="245" lengthAdjust="spacingAndGlyphs">Perturbed Response (Structure):</text>
<text x="3605" y="1823" textLength="287" lengthAdjust="spacingAndGlyphs">“The benefits of exercise are: 1) Better</text>
<text x="3604" y="1846" textLength="256" lengthAdjust="spacingAndGlyphs">heart health, 2) Stronger bones, 3)</text>
<text x="3603" y="1869" textLength="133" lengthAdjust="spacingAndGlyphs">Mood elevation.”</text>
</g>

<!-- SUMMARY -->
<text x="2343" y="2026" font-size="54" class="b" textLength="230" lengthAdjust="spacingAndGlyphs">Summary</text>
<rect x="2343" y="2031" width="230" height="4" fill="#111"/>
<g fill="#111"><circle cx="1736" cy="2100" r="6"/><circle cx="1736" cy="2214" r="6"/><circle cx="1736" cy="2328" r="6"/></g>
<g font-size="32">
<text x="1752" y="2111" textLength="1296" lengthAdjust="spacingAndGlyphs">Preference models can rely on <tspan class="b">surface-level stylistic signals</tspan> such as <tspan class="b">verbosity,</tspan></text>
<text x="1741" y="2167" textLength="932" lengthAdjust="spacingAndGlyphs"><tspan class="b">formatting, and jargon</tspan> over underlying response quality</text>
<text x="1752" y="2225" textLength="1432" lengthAdjust="spacingAndGlyphs">Controlled <tspan class="b">counterfactual response pairs</tspan> can isolate stylistic features while preserving</text>
<text x="1741" y="2282" textLength="1314" lengthAdjust="spacingAndGlyphs">semantic meaning, enabling systematic measurement of <tspan class="b">preference model bias</tspan></text>
<text x="1752" y="2339" textLength="1368" lengthAdjust="spacingAndGlyphs"><tspan class="b">Counterfactual Data Augmentation (CDA):</tspan> Training with <tspan class="b">synthetic counterfactual</tspan></text>
<text x="1741" y="2395" textLength="1346" lengthAdjust="spacingAndGlyphs"><tspan class="b">examples</tspan> reduces stylistic bias while maintaining overall evaluation performance</text>
</g>

<!-- QR -->
<text x="3357" y="2042" font-size="42" class="i" textLength="370" lengthAdjust="spacingAndGlyphs">Browse our data</text>
<text x="3357" y="2100" font-size="42" class="i" textLength="397" lengthAdjust="spacingAndGlyphs">&amp; read the paper:</text>
<rect x="3396" y="2128" width="308" height="309" fill="#fff"/>
<g transform="translate(3410,2140) scale(11.44)" fill="#000" shape-rendering="crispEdges">
<path d="M0 0h7v1h-7zM8 0h1v1h-1zM10 0h2v1h-2zM14 0h1v1h-1zM16 0h1v1h-1zM18 0h7v1h-7z
M0 1h1v1h-1zM6 1h1v1h-1zM9 1h2v1h-2zM12 1h1v1h-1zM15 1h2v1h-2zM18 1h1v1h-1zM24 1h1v1h-1z
M0 2h1v1h-1zM2 2h3v1h-3zM6 2h1v1h-1zM8 2h2v1h-2zM12 2h2v1h-2zM15 2h1v1h-1zM18 2h1v1h-1zM20 2h3v1h-3zM24 2h1v1h-1z
M0 3h1v1h-1zM2 3h3v1h-3zM6 3h1v1h-1zM10 3h2v1h-2zM13 3h2v1h-2zM16 3h1v1h-1zM18 3h1v1h-1zM20 3h3v1h-3zM24 3h1v1h-1z
M0 4h1v1h-1zM2 4h3v1h-3zM6 4h1v1h-1zM8 4h1v1h-1zM11 4h2v1h-2zM16 4h1v1h-1zM18 4h1v1h-1zM20 4h3v1h-3zM24 4h1v1h-1z
M0 5h1v1h-1zM6 5h1v1h-1zM9 5h2v1h-2zM13 5h3v1h-3zM18 5h1v1h-1zM24 5h1v1h-1z
M0 6h7v1h-7zM8 6h1v1h-1zM10 6h1v1h-1zM12 6h1v1h-1zM14 6h1v1h-1zM16 6h1v1h-1zM18 6h7v1h-7z
M8 7h2v1h-2zM11 7h1v1h-1zM14 7h2v1h-2z
M0 8h1v1h-1zM2 8h2v1h-2zM6 8h1v1h-1zM8 8h2v1h-2zM11 8h1v1h-1zM14 8h3v1h-3zM18 8h1v1h-1zM21 8h2v1h-2zM24 8h1v1h-1z
M1 9h1v1h-1zM3 9h2v1h-2zM7 9h2v1h-2zM11 9h2v1h-2zM14 9h1v1h-1zM17 9h1v1h-1zM19 9h2v1h-2zM22 9h1v1h-1zM24 9h1v1h-1z
M0 10h2v1h-2zM3 10h1v1h-1zM5 10h2v1h-2zM9 10h2v1h-2zM12 10h2v1h-2zM16 10h3v1h-3zM20 10h1v1h-1zM23 10h1v1h-1z
M2 11h1v1h-1zM4 11h2v1h-2zM7 11h1v1h-1zM9 11h1v1h-1zM11 11h1v1h-1zM14 11h2v1h-2zM18 11h2v1h-2zM21 11h2v1h-2z
M0 12h1v1h-1zM2 12h3v1h-3zM6 12h1v1h-1zM8 12h1v1h-1zM11 12h3v1h-3zM15 12h1v1h-1zM17 12h1v1h-1zM20 12h2v1h-2zM23 12h2v1h-2z
M1 13h2v1h-2zM5 13h1v1h-1zM7 13h3v1h-3zM12 13h1v1h-1zM14 13h1v1h-1zM16 13h2v1h-2zM19 13h1v1h-1zM22 13h2v1h-2z
M0 14h1v1h-1zM3 14h4v1h-4zM9 14h3v1h-3zM13 14h1v1h-1zM15 14h1v1h-1zM18 14h1v1h-1zM20 14h2v1h-2zM24 14h1v1h-1z
M1 15h1v1h-1zM4 15h1v1h-1zM7 15h2v1h-2zM10 15h1v1h-1zM12 15h1v1h-1zM15 15h3v1h-3zM19 15h2v1h-2zM22 15h1v1h-1zM24 15h1v1h-1z
M0 16h3v1h-3zM5 16h2v1h-2zM8 16h2v1h-2zM11 16h1v1h-1zM13 16h2v1h-2zM16 16h5v1h-5zM22 16h2v1h-2z
M8 17h1v1h-1zM10 17h2v1h-2zM13 17h1v1h-1zM15 17h2v1h-2zM20 17h2v1h-2zM23 17h2v1h-2z
M0 18h7v1h-7zM9 18h2v1h-2zM12 18h1v1h-1zM15 18h2v1h-2zM18 18h1v1h-1zM20 18h1v1h-1zM22 18h2v1h-2z
M0 19h1v1h-1zM6 19h1v1h-1zM8 19h2v1h-2zM11 19h1v1h-1zM13 19h2v1h-2zM16 19h1v1h-1zM20 19h3v1h-3zM24 19h1v1h-1z
M0 20h1v1h-1zM2 20h3v1h-3zM6 20h1v1h-1zM10 20h3v1h-3zM14 20h7v1h-7zM23 20h1v1h-1z
M0 21h1v1h-1zM2 21h3v1h-3zM6 21h1v1h-1zM8 21h1v1h-1zM10 21h1v1h-1zM13 21h2v1h-2zM17 21h2v1h-2zM20 21h2v1h-2zM23 21h2v1h-2z
M0 22h1v1h-1zM2 22h3v1h-3zM6 22h1v1h-1zM9 22h1v1h-1zM11 22h3v1h-3zM16 22h1v1h-1zM19 22h1v1h-1zM22 22h2v1h-2z
M0 23h1v1h-1zM6 23h1v1h-1zM8 23h2v1h-2zM12 23h1v1h-1zM14 23h2v1h-2zM17 23h2v1h-2zM20 23h2v1h-2zM24 23h1v1h-1z
M0 24h7v1h-7zM8 24h1v1h-1zM10 24h2v1h-2zM13 24h1v1h-1zM15 24h2v1h-2zM18 24h2v1h-2zM21 24h2v1h-2zM24 24h1v1h-1z"/>
</g>

<!-- Q2 -->
<text x="4045" y="669" font-size="52" class="b" textLength="873" lengthAdjust="spacingAndGlyphs">Q2: Are stylistic features correlated</text>
<rect x="4045" y="673" width="873" height="4" fill="#111"/>
<text x="4106" y="735" font-size="52" class="b" textLength="750" lengthAdjust="spacingAndGlyphs">with preference model scores?</text>
<rect x="4106" y="739" width="750" height="4" fill="#111"/>
<g stroke="#ebe6e2" stroke-width="1.5">
<path d="M4049,803V1198M4102,803V1198M4155,803V1198M4207.5,803V1198M4260,803V1198M4313,803V1198M4366,803V1198M4419,803V1198M3996,803H4419M3996,852H4419M3996,902H4419M3996,951H4419M3996,1000.5H4419M3996,1050H4419M3996,1099H4419M3996,1149H4419"/>
</g>
<path d="M3996,803V1198H4419" stroke="#c8c8c8" stroke-width="2.5" fill="none"/>
<path d="M3996,1198L4419,803" stroke="#bdbdbd" stroke-width="3" stroke-dasharray="10,7"/>
<g font-size="15" text-anchor="end">
<text x="3990" y="808" class="c">1.00</text><text x="3990" y="857" class="c">0.75</text><text x="3990" y="907" class="c">0.50</text><text x="3990" y="956" class="c">0.25</text><text x="3990" y="1005" class="c">0.00</text><text x="3990" y="1055" class="c">−0.25</text><text x="3990" y="1104" class="c">−0.50</text><text x="3990" y="1154" class="c">−0.75</text><text x="3990" y="1203" class="c">−1.00</text>
</g>
<g font-size="15" text-anchor="middle">
<text x="3996" y="1216" class="c">−1.00</text><text x="4049" y="1216" class="c">−0.75</text><text x="4102" y="1216" class="c">−0.50</text><text x="4155" y="1216" class="c">−0.25</text><text x="4207" y="1216" class="c">0.00</text><text x="4260" y="1216" class="c">0.25</text><text x="4313" y="1216" class="c">0.50</text><text x="4366" y="1216" class="c">0.75</text><text x="4419" y="1216" class="c">1.00</text>
</g>
<text x="4196" y="1243" font-size="24" class="c"><tspan class="i">r</tspan><tspan font-size="18" dy="4">human</tspan></text>
<text transform="translate(3944,1030) rotate(-90)" font-size="24" class="c"><tspan class="i">r</tspan><tspan font-size="18" dy="4">model</tspan></text>
<g opacity="0.85">
<polygon points="4064,1198 4082,1198 4073,1180" fill="#b2b0d9"/>
<polygon points="4172,1198 4190,1198 4181,1180" fill="#8fd0c0"/>
<polygon points="4201,1198 4219,1198 4210,1180" fill="#e8705f"/>
<polygon points="4207,1198 4225,1198 4216,1180" fill="#6d9fd0"/>
<polygon points="4260,1198 4278,1198 4269,1180" fill="#f6f3a0"/>
</g>
<g stroke="#333" stroke-width="1.5">
<circle cx="4371" cy="823" r="8" fill="#f6f3a9"/>
<circle cx="4175" cy="870" r="8" fill="#8fd0c0"/>
<circle cx="4081" cy="956" r="8" fill="#6d9fd0"/>
<circle cx="4208" cy="972" r="8" fill="#e8705f"/>
<circle cx="4055" cy="1021" r="8" fill="#b2b0d9"/>
</g>
<g font-size="15" class="b" text-anchor="end">
<text x="4359" y="833" class="b" style="fill:#333">Structure</text>
<text x="4164" y="880" class="b" style="fill:#333">Length</text>
<text x="4070" y="967" class="b" style="fill:#333">Jargon</text>
<text x="4197" y="984" class="b" style="fill:#333">Sycophancy</text>
<text x="4042" y="1031" class="b" style="fill:#333">Vagueness</text>
</g>
<path d="M4244,1177H4274" stroke="#bdbdbd" stroke-width="3" stroke-dasharray="9,5"/>
<text x="4286" y="1182" font-size="15" class="c" textLength="120" lengthAdjust="spacingAndGlyphs">Perfect alignment</text>
<g fill="#111"><circle cx="4479" cy="803" r="7"/><circle cx="4479" cy="1029" r="7"/></g>
<g font-size="38">
<text x="4496" y="816" textLength="553" lengthAdjust="spacingAndGlyphs">Preference model scores <tspan class="b">increase</tspan></text>
<text x="4483" y="872" textLength="528" lengthAdjust="spacingAndGlyphs"><tspan class="b">with stylistic amplification</tspan> (e.g.</text>
<text x="4483" y="928" textLength="513" lengthAdjust="spacingAndGlyphs">verbosity, structure) even when</text>
<text x="4483" y="984" textLength="543" lengthAdjust="spacingAndGlyphs">semantic meaning is unchanged.</text>
<text x="4496" y="1042" textLength="472" lengthAdjust="spacingAndGlyphs">These features show <tspan class="b">positive</tspan></text>
<text x="4483" y="1098" textLength="514" lengthAdjust="spacingAndGlyphs"><tspan class="b">correlation with model scores</tspan>,</text>
<text x="4483" y="1154" textLength="580" lengthAdjust="spacingAndGlyphs">while <tspan class="b">human correlations are near</tspan></text>
<text x="4483" y="1210" textLength="604" lengthAdjust="spacingAndGlyphs"><tspan class="b">zero or negative</tspan>, indicating reliance</text>
<text x="4483" y="1266" textLength="502" lengthAdjust="spacingAndGlyphs">on <tspan class="b">surface-level stylistic cues</tspan>.</text>
</g>

<!-- Q3 -->
<text x="3963" y="1436" font-size="52" class="b" textLength="1051" lengthAdjust="spacingAndGlyphs">Q3: Can stylistic bias in preference models</text>
<rect x="3963" y="1441" width="1051" height="4" fill="#111"/>
<text x="4324" y="1506" font-size="52" class="b" textLength="329" lengthAdjust="spacingAndGlyphs">be mitigated?</text>
<rect x="4324" y="1511" width="329" height="4" fill="#111"/>
<g font-size="24">
<rect x="4117" y="1574" width="50" height="17" fill="#4a9e78"/><text x="4186" y="1591" class="c" textLength="78" lengthAdjust="spacingAndGlyphs">Human</text>
<rect x="4314" y="1574" width="50" height="17" fill="#ee9467"/><text x="4384" y="1591" class="c" textLength="141" lengthAdjust="spacingAndGlyphs">Base Models</text>
<rect x="4574" y="1574" width="50" height="17" fill="#7672b0"/><text x="4643" y="1591" class="c" textLength="203" lengthAdjust="spacingAndGlyphs">Fine-tuned Models</text>
</g>
<text x="4074" y="1642" font-size="27" class="c" textLength="331" lengthAdjust="spacingAndGlyphs">Skew: Human vs. Models</text>
<text x="4568" y="1642" font-size="27" class="c" textLength="457" lengthAdjust="spacingAndGlyphs">Miscalibration: Base vs. Fine-tuned</text>
<g stroke="#e0d8d1" stroke-width="1.5" fill="none">
<rect x="4006" y="1656" width="466" height="302"/>
<path d="M4006,1897.6H4472M4006,1837.2H4472M4006,1776.8H4472M4006,1716.4H4472M4060,1656V1958M4150,1656V1958M4239,1656V1958M4329,1656V1958M4419,1656V1958"/>
<rect x="4562" y="1656" width="467" height="302"/>
<path d="M4562,1897.6H5029M4562,1837.2H5029M4562,1776.8H5029M4562,1716.4H5029M4616,1656V1958M4705,1656V1958M4796,1656V1958M4886,1656V1958M4976,1656V1958"/>
</g>
<g font-size="24" text-anchor="end">
<text x="4000" y="1966" class="c">0</text><text x="4000" y="1906" class="c">20</text><text x="4000" y="1845" class="c">40</text><text x="4000" y="1785" class="c">60</text><text x="4000" y="1725" class="c">80</text><text x="4000" y="1664" class="c">100</text>
<text x="4556" y="1966" class="c">0</text><text x="4556" y="1906" class="c">20</text><text x="4556" y="1845" class="c">40</text><text x="4556" y="1785" class="c">60</text><text x="4556" y="1725" class="c">80</text><text x="4556" y="1664" class="c">100</text>
</g>
<g font-size="24" text-anchor="middle">
<text transform="translate(3953,1807) rotate(-90)" class="c" textLength="311" lengthAdjust="spacingAndGlyphs">Skew (% favoring perturbed)</text>
<text transform="translate(4510,1808) rotate(-90)" class="c" textLength="350" lengthAdjust="spacingAndGlyphs">Miscalibration (% disagreement)</text>
</g>
<g font-size="24" text-anchor="end">
<text transform="translate(4066,1976) rotate(-45)" class="c">length</text>
<text transform="translate(4156,1976) rotate(-45)" class="c">structure</text>
<text transform="translate(4245,1976) rotate(-45)" class="c">jargon</text>
<text transform="translate(4335,1976) rotate(-45)" class="c">sycophancy</text>
<text transform="translate(4425,1976) rotate(-45)" class="c">vagueness</text>
<text transform="translate(4622,1976) rotate(-45)" class="c">length</text>
<text transform="translate(4711,1976) rotate(-45)" class="c">structure</text>
<text transform="translate(4802,1976) rotate(-45)" class="c">jargon</text>
<text transform="translate(4892,1976) rotate(-45)" class="c">sycophancy</text>
<text transform="translate(4982,1976) rotate(-45)" class="c">vagueness</text>
</g>
<text x="4482" y="2078" font-size="24" text-anchor="middle" class="c">Bias Type</text>
<g fill="#4a9e78">
<rect x="4026.4" y="1855.3" width="22.4" height="102.7"/><rect x="4116.4" y="1687.7" width="22.4" height="270.3"/><rect x="4205.4" y="1894.6" width="22.4" height="63.4"/><rect x="4295.4" y="1808.5" width="22.4" height="149.5"/><rect x="4385.4" y="1914.2" width="22.4" height="43.8"/>
</g>
<g fill="#ee9467">
<rect x="4048.8" y="1776.8" width="22.4" height="181.2"/><rect x="4138.8" y="1687.7" width="22.4" height="270.3"/><rect x="4227.8" y="1814.5" width="22.4" height="143.5"/><rect x="4317.8" y="1817.6" width="22.4" height="140.4"/><rect x="4407.8" y="1773.8" width="22.4" height="184.2"/>
<rect x="4584.5" y="1831.2" width="31.5" height="126.8"/><rect x="4673.5" y="1920.2" width="31.5" height="37.8"/><rect x="4764.5" y="1805.5" width="31.5" height="152.5"/><rect x="4854.5" y="1835.7" width="31.5" height="122.3"/><rect x="4944.5" y="1804" width="31.5" height="154"/>
</g>
<g fill="#7672b0">
<rect x="4071.2" y="1822.1" width="22.4" height="135.9"/><rect x="4161.2" y="1717.9" width="22.4" height="240.1"/><rect x="4250.2" y="1891.6" width="22.4" height="66.4"/><rect x="4340.2" y="1841.7" width="22.4" height="116.3"/><rect x="4430.2" y="1864.4" width="22.4" height="93.6"/>
<rect x="4616" y="1841.7" width="31.5" height="116.3"/><rect x="4705" y="1905.1" width="31.5" height="52.9"/><rect x="4796" y="1856.8" width="31.5" height="101.2"/><rect x="4886" y="1823.6" width="31.5" height="134.4"/><rect x="4976" y="1871.9" width="31.5" height="86.1"/>
</g>
<g stroke="#222" stroke-width="2" fill="none">
<path d="M4060,1819.1V1731.5M4053,1819.1h14M4053,1731.5h14M4082.4,1876.5V1767.7M4075.4,1876.5h14M4075.4,1767.7h14M4150,1701.3V1669.6M4143,1701.3h14M4143,1669.6h14M4172.4,1731.5V1702.8M4165.4,1731.5h14M4165.4,1702.8h14M4239,1840.2V1787.4M4232,1840.2h14M4232,1787.4h14M4261.4,1930.8V1852.3M4254.4,1930.8h14M4254.4,1852.3h14M4329,1870.4V1763.2M4322,1870.4h14M4322,1763.2h14M4351.4,1891.6V1791.9M4344.4,1891.6h14M4344.4,1791.9h14M4419,1799.5V1749.6M4412,1799.5h14M4412,1749.6h14M4441.4,1927.8V1799.5M4434.4,1927.8h14M4434.4,1799.5h14"/>
<path d="M4600.25,1855.3V1805.5M4593.25,1855.3h14M4593.25,1805.5h14M4631.75,1859.9V1820.6M4624.75,1859.9h14M4624.75,1820.6h14M4689.25,1932.3V1906.7M4682.25,1932.3h14M4682.25,1906.7h14M4720.75,1915.7V1896.1M4713.75,1915.7h14M4713.75,1896.1h14M4780.25,1817.6V1793.4M4773.25,1817.6h14M4773.25,1793.4h14M4811.75,1882.5V1832.7M4804.75,1882.5h14M4804.75,1832.7h14M4870.25,1850.8V1819.1M4863.25,1850.8h14M4863.25,1819.1h14M4901.75,1850.8V1796.4M4894.75,1850.8h14M4894.75,1796.4h14M4960.25,1829.7V1775.3M4953.25,1829.7h14M4953.25,1775.3h14M4991.75,1920.3V1822.1M4984.75,1920.3h14M4984.75,1822.1h14"/>
</g>
<path d="M4037,1855.3H4084M4127,1687.7H4174M4216,1894.6H4263M4306,1808.5H4353M4396,1914.2H4443" stroke="#3a8a2a" stroke-width="2.5" stroke-dasharray="6,4" fill="none"/>
<g fill="#111"><circle cx="3999" cy="2156" r="7"/><circle cx="3999" cy="2326" r="7"/></g>
<g font-size="38">
<text x="4016" y="2169" textLength="892" lengthAdjust="spacingAndGlyphs"><tspan class="b">Counterfactual Data Augmentation (CDA)</tspan> introduces</text>
<text x="4004" y="2226" textLength="861" lengthAdjust="spacingAndGlyphs">training examples that isolate stylistic features while</text>
<text x="4004" y="2282" textLength="496" lengthAdjust="spacingAndGlyphs">preserving semantic meaning.</text>
<text x="4016" y="2339" textLength="971" lengthAdjust="spacingAndGlyphs">Training with CDA <tspan class="b">reduces skew and miscalibration</tspan> while</text>
<text x="4004" y="2394" textLength="832" lengthAdjust="spacingAndGlyphs">maintaining <tspan class="b">comparable evaluation performance.</tspan></text>
</g>
</svg>
</body></html>
